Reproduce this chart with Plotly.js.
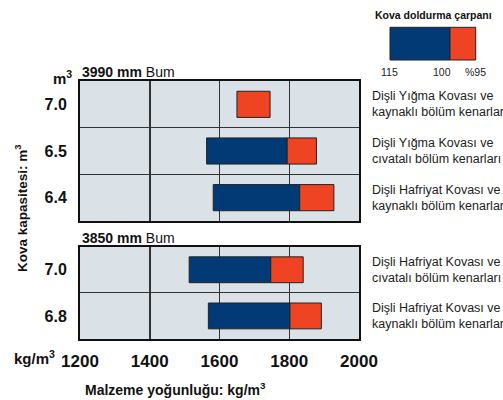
<!DOCTYPE html>
<html><head><meta charset="utf-8">
<script src="https://cdn.plot.ly/plotly-3.0.1.min.js"></script>
<style>body{margin:0;background:#fff}#c{width:503px;height:400px}</style>
</head><body><div id="c"></div>
<script>
// Top panel (3990 mm Bum)
const topCats = ['6.4', '6.5', '7.0'];
const topStart = [1582, 1563, null];   // 115% fill
const topMid   = [1830, 1794, 1650];   // 100% fill
const topEnd   = [1928, 1878, 1745];   // 95% fill
const topNames = ['Dişli Hafriyat Kovası ve<br>kaynaklı bölüm kenarları',
                  'Dişli Yığma Kovası ve<br>cıvatalı bölüm kenarları',
                  'Dişli Yığma Kovası ve<br>kaynaklı bölüm kenarları'];
// Bottom panel (3850 mm Bum)
const botCats = ['6.8', '7.0'];
const botStart = [1568, 1513];
const botMid   = [1802, 1747];
const botEnd   = [1892, 1840];
const botNames = ['Dişli Hafriyat Kovası ve<br>kaynaklı bölüm kenarları',
                  'Dişli Hafriyat Kovası ve<br>cıvatalı bölüm kenarları'];
const xTicks = [1200, 1400, 1600, 1800, 2000];
const legendLabels = ['115', '100', '%95'];

const BLUE = '#023a76', RED = '#ef4424', BG = '#dbe2e7';
const FN = 'Liberation Sans Narrow, Arial Narrow, Liberation Sans, sans-serif';

function len(a, b) { return a.map((v, i) => (v == null || b[i] == null) ? 0 : b[i] - v); }
const lineStyle = {color: '#222', width: 1};

const traces = [
  {type: 'bar', orientation: 'h', y: topCats, base: topStart.map(v => v == null ? 0 : v), x: len(topStart, topMid),
   marker: {color: BLUE, line: lineStyle}, xaxis: 'x2', yaxis: 'y2', hoverinfo: 'skip'},
  {type: 'bar', orientation: 'h', y: topCats, base: topMid, x: len(topMid, topEnd),
   marker: {color: RED, line: lineStyle}, xaxis: 'x2', yaxis: 'y2', hoverinfo: 'skip'},
  {type: 'bar', orientation: 'h', y: botCats, base: botStart, x: len(botStart, botMid),
   marker: {color: BLUE, line: lineStyle}, xaxis: 'x', yaxis: 'y', hoverinfo: 'skip'},
  {type: 'bar', orientation: 'h', y: botCats, base: botMid, x: len(botMid, botEnd),
   marker: {color: RED, line: lineStyle}, xaxis: 'x', yaxis: 'y', hoverinfo: 'skip'}
];

const W = 279, H = 258, L = 80, T = 81;
const px = p => (p - L) / W;
const py = q => (T + H - q) / H;

const xCommon = {range: [1200, 2000], tickvals: xTicks, showgrid: true, gridcolor: '#333', gridwidth: 1.5,
  showline: true, linecolor: '#111', linewidth: 2, mirror: true, zeroline: false, fixedrange: true};
const yCommon = {type: 'category', tickson: 'boundaries', showgrid: true, gridcolor: '#333', gridwidth: 1.2,
  showline: true, linecolor: '#111', linewidth: 2, mirror: true, ticks: '', ticklabelstandoff: 8, autorange: false,
  tickfont: {family: FN, size: 16, weight: 'bold', color: '#111'}};

const annotations = [];
topCats.forEach((c, i) => annotations.push({xref: 'paper', yref: 'y2', x: px(370), y: i, xanchor: 'left', yanchor: 'middle',
  text: topNames[i], showarrow: false, align: 'left', font: {family: FN, size: 12.5, color: '#222'}}));
botCats.forEach((c, i) => annotations.push({xref: 'paper', yref: 'y', x: px(370), y: i, xanchor: 'left', yanchor: 'middle',
  text: botNames[i], showarrow: false, align: 'left', font: {family: FN, size: 12.5, color: '#222'}}));
const txt = (x, y, text, size, extra) => Object.assign({xref: 'paper', yref: 'paper', x: px(x), y: py(y), text: text,
  showarrow: false, font: {family: FN, size: size, color: '#111'}}, extra || {});
annotations.push(txt(80, 72, '<b>3990 mm</b> Bum', 14, {xanchor: 'left', yanchor: 'middle'}));
annotations.push(txt(80, 237.5, '<b>3850 mm</b> Bum', 14, {xanchor: 'left', yanchor: 'middle'}));
annotations.push(txt(62, 77, '<b>m<sup>3</sup></b>', 15, {xanchor: 'center', yanchor: 'middle'}));
annotations.push(txt(34, 357, '<b>kg/m<sup>3</sup></b>', 15, {xanchor: 'center', yanchor: 'middle'}));
annotations.push(txt(175, 389, '<b>Malzeme yoğunluğu: kg/m<sup>3</sup></b>', 14, {xanchor: 'center', yanchor: 'middle'}));
annotations.push(txt(21, 208, '<b>Kova kapasitesi: m<sup>3</sup></b>', 13.5, {xanchor: 'center', yanchor: 'middle', textangle: -90}));
annotations.push(txt(433, 15, '<b>Kova doldurma çarpanı</b>', 10.5, {xanchor: 'center', yanchor: 'middle'}));
const legX = [389, 442, 475];
legendLabels.forEach((t, i) => annotations.push(txt(legX[i], 72, t, 10.5, {xanchor: 'center', yanchor: 'middle', font: {family: FN, size: 10.5, color: '#222'}})));

const shapes = [
  {type: 'rect', xref: 'paper', yref: 'paper', x0: px(390), x1: px(450), y0: py(60), y1: py(27.3),
   fillcolor: BLUE, line: {color: '#222', width: 1}},
  {type: 'rect', xref: 'paper', yref: 'paper', x0: px(450), x1: px(475.7), y0: py(60), y1: py(27.3),
   fillcolor: RED, line: {color: '#222', width: 1}}
];

const layout = {
  width: 503, height: 400,
  margin: {l: L, r: 503 - L - W, t: T, b: 400 - T - H, pad: 0},
  paper_bgcolor: '#fff', plot_bgcolor: BG,
  showlegend: false, barmode: 'overlay', bargap: 0.44,
  font: {family: FN, color: '#111'},
  xaxis: Object.assign({}, xCommon, {anchor: 'y', domain: [0, 1], showticklabels: true, ticks: '', ticklabelstandoff: 6,
    tickfont: {family: FN, size: 17, weight: 'bold', color: '#111'}}),
  xaxis2: Object.assign({}, xCommon, {anchor: 'y2', domain: [0, 1], showticklabels: false, ticks: ''}),
  yaxis: Object.assign({}, yCommon, {domain: [0, py(246.7)], categoryorder: 'array', categoryarray: botCats, range: [-0.5, 1.5]}),
  yaxis2: Object.assign({}, yCommon, {domain: [py(221), 1], categoryorder: 'array', categoryarray: topCats, range: [-0.5, 2.5]}),
  annotations: annotations, shapes: shapes
};
Plotly.newPlot('c', traces, layout, {displayModeBar: false, staticPlot: true});
</script></body></html>
